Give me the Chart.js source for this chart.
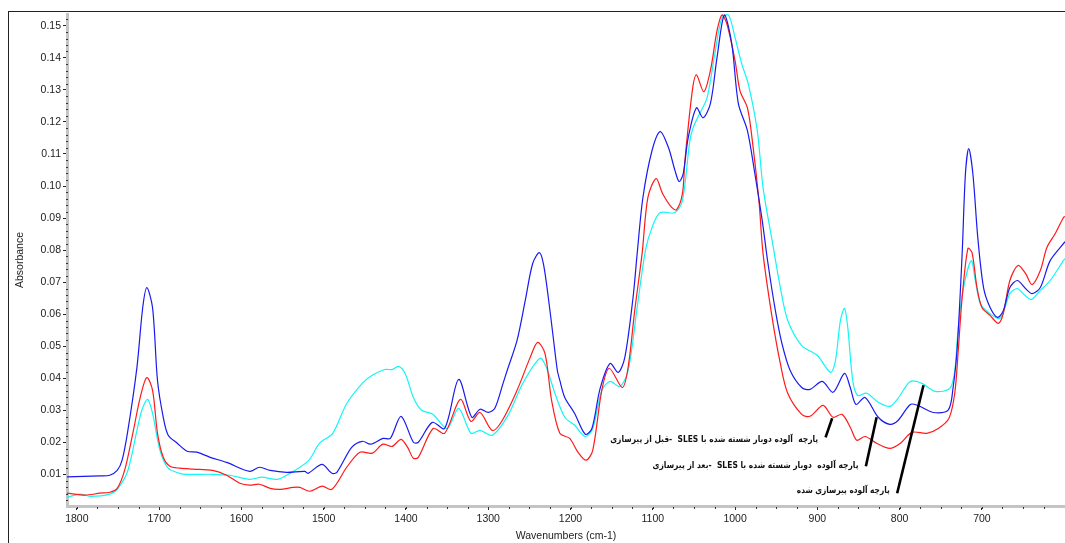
<!DOCTYPE html>
<html lang="fa">
<head>
<meta charset="UTF-8">
<title>FTIR spectra</title>
<script src="https://cdn.jsdelivr.net/npm/chart.js"></script>
<style>
  html, body { margin: 0; padding: 0; background: #fff; overflow: hidden; }
  #wrap { position: relative; width: 1065px; height: 543px; }
  #frame { position: absolute; left: 8px; top: 11px; right: 0; bottom: 0; border-left: 1px solid #222; border-top: 1px solid #222; }
  canvas { position: absolute; left: 0; top: 0; }
</style>
</head>
<body>
<div id="wrap">
  <div id="frame"></div>
  <canvas id="myChart" width="1065" height="543"></canvas>
</div>

<script>
// Tick labels
var xTicks = [1800, 1700, 1600, 1500, 1400, 1300, 1200, 1100, 1000, 900, 800, 700];
var yTicks = [0.01, 0.02, 0.03, 0.04, 0.05, 0.06, 0.07, 0.08, 0.09, 0.10, 0.11, 0.12, 0.13, 0.14, 0.15];

// Spectra (wavenumber, absorbance)
var blueWn = [1812,1772,1760,1751,1745,1738,1727,1720,1715,1708,
  1702,1695,1689,1678,1666,1654,1638,1618,1590,1578,
  1565,1545,1523,1519,1502,1490,1484,1466,1453,1443,
  1428,1419,1406,1391,1385,1368,1353,1336,1320,1310,
  1300,1292,1282,1277,1265,1255,1246,1238,1233,1227,
  1221,1216,1213,1207,1195,1182,1174,1164,1152,1142,
  1134,1124,1119,1112,1101,1091,1081,1073,1068,1063,
  1057,1047,1039,1030,1022,1013,1004,996,985,976,
  967,960,951,943,933,919,909,894,881,867,
  860,853,842,826,812,802,787,778,759,741,
  735,730,724,720,716,711,705,698,690,681,
  674,666,657,647,639,629,617,599];
var blueAbs = [.0092,.0095,.0097,.0112,.0144,.0237,.0434,.062,.0683,.062,
  .0393,.0278,.0222,.0197,.0172,.0169,.0153,.0137,.0109,.0122,
  .0112,.0106,.0109,.0103,.0131,.0103,.0106,.0184,.0203,.0194,
  .0212,.0212,.0281,.02,.02,.0262,.0243,.0396,.0278,.0303,
  .0293,.0306,.0384,.0424,.0518,.0643,.0758,.0792,.0758,.0652,
  .0527,.0424,.0393,.034,.029,.0225,.0243,.0368,.0446,.0418,
  .0465,.0652,.0789,.0964,.111,.117,.112,.1048,.1014,.1039,
  .115,.1244,.1213,.1257,.14,.1534,.1444,.1257,.1173,.1039,
  .0892,.0758,.0611,.0508,.0424,.0371,.0365,.039,.0356,.0415,
  .0371,.0318,.034,.0278,.0256,.0268,.0318,.0315,.0293,.03,
  .0371,.0496,.0789,.1039,.1117,.1039,.0839,.0683,.0621,.059,
  .0611,.0683,.0705,.068,.0664,.0683,.0767,.0826];

var redWn = [1812,1790,1772,1760,1751,1742,1732,1723,1715,1708,
  1702,1695,1687,1675,1659,1635,1618,1602,1590,1578,
  1565,1553,1537,1529,1517,1502,1490,1472,1456,1441,
  1428,1417,1406,1398,1391,1385,1367,1353,1334,1321,
  1310,1295,1283,1265,1249,1240,1231,1223,1213,1201,
  1191,1181,1173,1162,1153,1137,1130,1122,1113,1106,
  1096,1088,1077,1071,1064,1061,1052,1047,1038,1030,
  1022,1016,1010,1000,994,985,979,971,966,955,
  945,936,919,909,893,881,870,860,852,842,
  828,812,799,785,767,753,740,733,729,724,
  717,712,706,700,690,680,674,666,656,647,
  639,629,621,611,601,599];
var redAbs = [.0041,.0035,.0041,.0044,.0056,.0112,.0228,.034,.0402,.0362,
  .0228,.0153,.0125,.0119,.0116,.0112,.0097,.0072,.0066,.0069,
  .0056,.0053,.0059,.0059,.0047,.0063,.0053,.0122,.0169,.0166,
  .0194,.0187,.0209,.0184,.015,.0153,.0243,.0228,.0334,.0265,
  .0293,.0237,.0268,.0362,.0465,.0512,.0477,.0331,.0228,.0212,
  .0169,.0144,.0175,.0362,.0431,.0371,.0434,.0611,.0789,.0964,
  .1023,.0976,.0933,.0926,.0976,.1079,.1297,.1347,.1294,.136,
  .1484,.1534,.1506,.1391,.1297,.1244,.1141,.0954,.0789,.059,
  .0446,.0353,.0287,.0281,.0315,.0278,.0287,.0247,.0206,.0218,
  .0197,.0181,.0197,.0231,.0228,.0243,.0275,.0353,.0477,.0652,
  .0805,.0792,.0683,.0621,.0596,.0571,.0602,.0705,.0752,.0727,
  .0692,.0736,.0808,.0851,.0901,.0905];

var cyanWn = [1812,1796,1784,1760,1750,1738,1727,1721,1714,1708,
  1699,1689,1675,1666,1635,1614,1590,1575,1557,1545,
  1519,1505,1489,1472,1452,1441,1426,1417,1409,1401,
  1391,1381,1367,1350,1336,1321,1310,1295,1276,1258,
  1237,1229,1219,1207,1195,1182,1173,1162,1152,1140,
  1130,1119,1109,1101,1091,1073,1064,1055,1051,1043,
  1034,1024,1016,1008,1000,992,984,973,966,955,
  945,936,919,900,884,878,872,867,863,857,
  851,840,826,812,802,787,773,757,739,733,
  729,723,713,708,702,692,679,672,666,657,
  650,640,629,617,601,599];
var cyanAbs = [.0028,.0038,.0031,.0038,.0056,.0112,.0237,.03,.0334,.029,
  .0175,.0119,.0103,.01,.01,.0097,.0084,.0091,.0084,.0097,
  .0141,.0197,.0228,.0321,.0387,.0409,.0427,.0427,.0437,.0415,
  .034,.03,.0287,.0243,.0306,.0228,.0237,.0222,.0284,.0384,
  .0462,.0431,.0353,.0278,.0253,.0218,.0243,.0362,.039,.0374,
  .0424,.0621,.0798,.087,.0917,.0917,.0954,.1141,.1182,.1226,
  .1276,.1422,.1525,.1534,.1463,.1382,.1319,.1173,.0995,.083,
  .0683,.058,.0502,.0471,.0418,.0455,.058,.0618,.0558,.0393,
  .0346,.0353,.0325,.0312,.0337,.039,.0384,.0359,.0368,.0424,
  .0549,.0674,.0767,.0705,.0633,.0605,.0586,.0621,.0664,.068,
  .0664,.0646,.0674,.0705,.0767,.0773];

// Leader lines and their captions, in axis units
var leaderWn = [[890, 882], [841, 828], [803, 771]];
var leaderAbs = [[.0215, .0275], [.0125, .0278], [.0041, .0378]];
var captions = [
  'پارچه  آلوده دوبار شسته شده با SLES  -قبل از پیرسازی',
  'پارچه آلوده  دوبار شسته شده با SLES  -بعد از پیرسازی',
  'پارچه آلوده پیرسازی شده'
];
var captionWn = [899, 850, 812];
var captionAbs = [.0209, .0128, .005];
var captionWidth = [208, 206, 93];

function pairs(xs, ys) {
    return xs.map(function (x, i) { return { x: x, y: ys[i] }; });
}

function spectrum(xs, ys, color) {
    return { data: pairs(xs, ys), borderColor: color, borderWidth: 1.2, pointRadius: 0, tension: 0.3, fill: false };
}

var leaders = leaderWn.map(function (xs, i) {
    return { data: pairs(xs, leaderAbs[i]), borderColor: '#000', borderWidth: 2.6, pointRadius: 0, tension: 0 };
});

// Minor ticks and the Persian captions are not something the axes draw by themselves
var extras = {
    id: 'extras',
    afterDraw: function (chart) {
        var ctx = chart.ctx, xs = chart.scales.x, ys = chart.scales.y;
        ctx.save();
        ctx.strokeStyle = '#333';
        ctx.lineWidth = 1;
        ctx.beginPath();
        for (var w = 625; w <= 1800; w += 25) {
            var px = Math.round(xs.getPixelForValue(w)) + 0.5;
            ctx.moveTo(px, xs.top + 1);
            ctx.lineTo(px, xs.top + 3);
        }
        for (var a = 2; a <= 152; a += 2) {
            if (a % 10 === 0) continue;
            var py = Math.round(ys.getPixelForValue(a / 1000)) + 0.5;
            ctx.moveTo(ys.right - 1, py);
            ctx.lineTo(ys.right + 1, py);
        }
        ctx.stroke();

        ctx.fillStyle = '#111';
        ctx.font = 'bold 9px "DejaVu Sans"';
        ctx.direction = 'rtl';
        ctx.textAlign = 'right';
        ctx.textBaseline = 'middle';
        captions.forEach(function (text, i) {
            ctx.fillText(text, xs.getPixelForValue(captionWn[i]), ys.getPixelForValue(captionAbs[i]), captionWidth[i]);
        });
        ctx.restore();
    }
};

var axisFont = { family: '"Liberation Sans"', size: 10.5 };

new Chart(document.getElementById('myChart').getContext('2d'), {
    type: 'line',
    data: {
        datasets: leaders.concat([
            spectrum(blueWn, blueAbs, '#1a1af0'),
            spectrum(redWn, redAbs, '#ff1a1a'),
            spectrum(cyanWn, cyanAbs, '#14f5f5')
        ])
    },
    options: {
        responsive: false,
        animation: false,
        layout: { padding: { top: 14, right: 0, left: 0, bottom: 0 } },
        plugins: { legend: { display: false }, tooltip: { enabled: false } },
        scales: {
            x: {
                type: 'linear',
                reverse: true,
                min: 599,
                max: 1812,
                afterBuildTicks: function (scale) { scale.ticks = xTicks.map(function (v) { return { value: v }; }); },
                afterFit: function (scale) { scale.height = 37; },
                border: { color: '#c4c4c4', width: 3 },
                grid: { drawOnChartArea: false, tickLength: 4, tickColor: '#222', tickWidth: 1 },
                ticks: { color: '#222', font: axisFont, padding: 3, maxRotation: 0, autoSkip: false, callback: function (v) { return String(v); } },
                title: { display: true, text: 'Wavenumbers (cm-1)', color: '#222', font: axisFont, padding: { top: 4, bottom: 1 } }
            },
            y: {
                min: 0.0001,
                max: 0.1537,
                afterBuildTicks: function (scale) { scale.ticks = yTicks.map(function (v) { return { value: v }; }); },
                afterFit: function (scale) { scale.width = 67; },
                border: { color: '#c4c4c4', width: 3 },
                grid: { drawOnChartArea: false, tickLength: 4, tickColor: '#222', tickWidth: 1 },
                ticks: { color: '#222', font: axisFont, padding: 2, autoSkip: false, callback: function (v) { return v.toFixed(2); } },
                title: { display: true, text: 'Absorbance', color: '#222', font: axisFont, padding: { top: 14, bottom: 0 } }
            }
        }
    },
    plugins: [extras]
});
</script>
</body>
</html>
